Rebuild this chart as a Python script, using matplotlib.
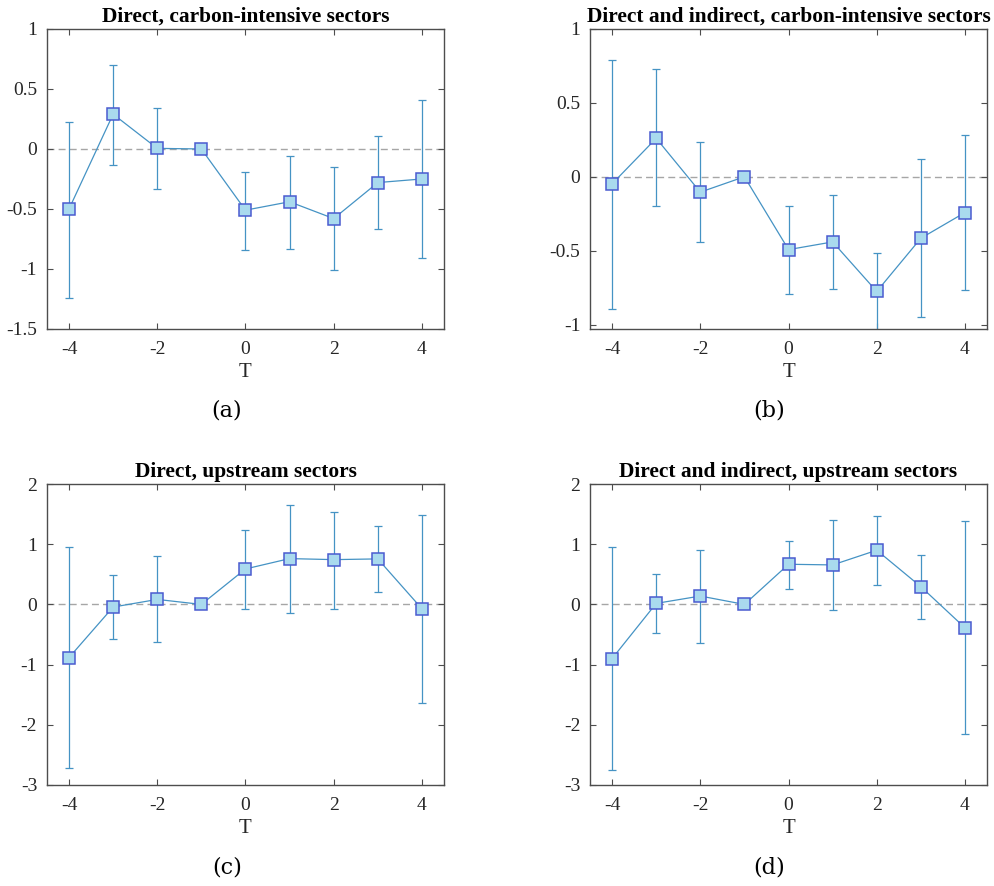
import numpy as np
import matplotlib
matplotlib.use("Agg")
import matplotlib.pyplot as plt

plt.rcParams['font.family'] = ['Liberation Serif', 'DejaVu Serif']
plt.rcParams['mathtext.fontset'] = 'cm'

T = [-4, -3, -2, -1, 0, 1, 2, 3, 4]

titles = [
    "Direct, carbon-intensive sectors",
    "Direct and indirect, carbon-intensive sectors",
    "Direct, upstream sectors",
    "Direct and indirect, upstream sectors",
]
panel_tags = ["(a)", "(b)", "(c)", "(d)"]

# point estimates
coef_a = [-0.50, 0.29, 0.005, 0.0, -0.51, -0.44, -0.58, -0.28, -0.25]
coef_b = [-0.048, 0.26, -0.104, 0.0, -0.493, -0.441, -0.776, -0.416, -0.242]
coef_c = [-0.883, -0.044, 0.083, 0.0, 0.589, 0.761, 0.744, 0.756, -0.072]
coef_d = [-0.90, 0.017, 0.139, 0.0, 0.667, 0.656, 0.90, 0.294, -0.389]

# confidence interval bounds
upper_a = [0.225, 0.70, 0.34, 0.0, -0.19, -0.055, -0.15, 0.11, 0.41]
lower_a = [-1.24, -0.13, -0.33, 0.0, -0.84, -0.83, -1.005, -0.67, -0.91]
upper_b = [0.79, 0.73, 0.235, 0.0, -0.20, -0.122, -0.516, 0.122, 0.285]
lower_b = [-0.896, -0.197, -0.44, 0.0, -0.794, -0.76, -1.05, -0.948, -0.767]
upper_c = [0.955, 0.494, 0.80, 0.0, 1.24, 1.656, 1.539, 1.30, 1.49]
lower_c = [-2.72, -0.578, -0.628, 0.0, -0.078, -0.139, -0.072, 0.206, -1.644]
upper_d = [0.955, 0.506, 0.906, 0.0, 1.056, 1.406, 1.467, 0.822, 1.378]
lower_d = [-2.75, -0.478, -0.639, 0.0, 0.261, -0.094, 0.322, -0.239, -2.156]

coefs = [coef_a, coef_b, coef_c, coef_d]
uppers = [upper_a, upper_b, upper_c, upper_d]
lowers = [lower_a, lower_b, lower_c, lower_d]

ylims = [(-1.5, 1), (-1.03, 1), (-3, 2), (-3, 2)]
yticks = [[-1.5, -1, -0.5, 0, 0.5, 1],
          [-1, -0.5, 0, 0.5, 1],
          [-3, -2, -1, 0, 1, 2],
          [-3, -2, -1, 0, 1, 2]]

fig = plt.figure(figsize=(9.95, 8.86), dpi=100)

positions = [
    [0.0472, 0.6287, 0.399, 0.3386],
    [0.5930, 0.6287, 0.399, 0.3386],
    [0.0472, 0.1140, 0.399, 0.3397],
    [0.5930, 0.1140, 0.399, 0.3397],
]
tag_xy = [(0.228, 0.537), (0.773, 0.537), (0.228, 0.021), (0.773, 0.021)]

line_col = '#4593c4'
face_col = '#a9daee'
edge_col = '#4a5bd0'
spine_col = '#4d4d4d'

for i in range(4):
    ax = fig.add_axes(positions[i])
    y = np.array(coefs[i])
    up = np.array(uppers[i]) - y
    lo = y - np.array(lowers[i])
    ax.axhline(0, color='#a6a6a6', linestyle=(0, (5, 3)), linewidth=1.0, zorder=1)
    ax.errorbar(T, y, yerr=[lo, up], color=line_col, linewidth=0.9,
                elinewidth=0.9, capsize=3, capthick=0.9, zorder=2)
    ax.plot(T, y, linestyle='none', marker='s', markersize=8.5,
            markerfacecolor=face_col, markeredgecolor=edge_col,
            markeredgewidth=1.1, zorder=3)
    ax.set_xlim(-4.5, 4.5)
    ax.set_ylim(*ylims[i])
    ax.set_xticks([-4, -2, 0, 2, 4])
    ax.set_yticks(yticks[i])
    ax.set_yticklabels(['%g' % v for v in yticks[i]])
    ax.set_xticklabels(['%g' % v for v in [-4, -2, 0, 2, 4]])
    ax.tick_params(direction='in', top=True, right=True, length=4,
                   width=0.8, colors=spine_col, labelcolor='#262626',
                   labelsize=14)
    ax.tick_params(axis='x', pad=9)
    ax.tick_params(axis='y', pad=7)
    for s in ax.spines.values():
        s.set_color(spine_col)
        s.set_linewidth(1.0)
    ax.set_xlabel('T', fontsize=15, color='#262626', labelpad=3)
    ax.set_title(titles[i], fontsize=15.4, fontweight='bold', pad=5)
    fig.text(tag_xy[i][0], tag_xy[i][1], panel_tags[i], ha='center',
             va='center', fontsize=16, family='DejaVu Serif')

fig.savefig('out.png', dpi=100)
